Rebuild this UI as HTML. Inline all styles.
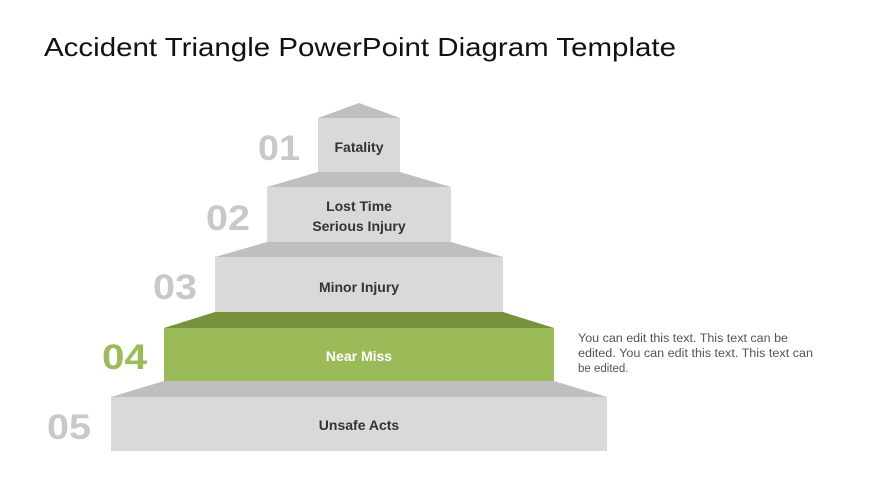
<!DOCTYPE html>
<html><head><style>
body{margin:0;width:870px;height:489px;background:#fff;overflow:hidden}
svg{display:block}
</style></head><body>
<svg width="870" height="489" viewBox="0 0 870 489" font-family="Liberation Sans, sans-serif">
<text x="44" y="56" font-size="26" fill="#111" textLength="632" lengthAdjust="spacingAndGlyphs">Accident Triangle PowerPoint Diagram Template</text>
<polygon points="318,118 359,103 400,118" fill="#bfbfbf"/>
<rect x="318" y="118" width="82" height="54" fill="#d9d9d9"/>
<text x="359" y="152" font-size="14" font-weight="bold" fill="#333" text-anchor="middle">Fatality</text>
<polygon points="318,172 400,172 451,187 267,187" fill="#bfbfbf"/>
<rect x="267" y="187" width="184" height="55" fill="#d9d9d9"/>
<text x="359" y="211" font-size="14" font-weight="bold" fill="#333" text-anchor="middle">Lost Time</text>
<text x="359" y="231" font-size="14" font-weight="bold" fill="#333" text-anchor="middle">Serious Injury</text>
<polygon points="267,242 451,242 503,257 215,257" fill="#bfbfbf"/>
<rect x="215" y="257" width="288" height="55" fill="#d9d9d9"/>
<text x="359" y="292" font-size="14" font-weight="bold" fill="#333" text-anchor="middle">Minor Injury</text>
<polygon points="215,312 503,312 554,328 164,328" fill="#76923c"/>
<rect x="164" y="328" width="390" height="53" fill="#9bbb59"/>
<text x="359" y="361" font-size="14" font-weight="bold" fill="#fff" text-anchor="middle">Near Miss</text>
<polygon points="164,381 554,381 607,397 111,397" fill="#bfbfbf"/>
<rect x="111" y="397" width="496" height="54" fill="#d9d9d9"/>
<text x="359" y="430" font-size="14" font-weight="bold" fill="#333" text-anchor="middle">Unsafe Acts</text>
<g font-size="35" font-weight="bold" fill="#c8c8c8">
<text x="258" y="160" textLength="42" lengthAdjust="spacingAndGlyphs">01</text>
<text x="206" y="230" textLength="44" lengthAdjust="spacingAndGlyphs">02</text>
<text x="153" y="299" textLength="44" lengthAdjust="spacingAndGlyphs">03</text>
<text x="102" y="369" fill="#9bbb59" textLength="45" lengthAdjust="spacingAndGlyphs">04</text>
<text x="47" y="439" textLength="44" lengthAdjust="spacingAndGlyphs">05</text>
</g>
<g font-size="11.5" fill="#555">
<text x="578" y="342" textLength="210" lengthAdjust="spacingAndGlyphs">You can edit this text. This text can be</text>
<text x="578" y="357" textLength="235" lengthAdjust="spacingAndGlyphs">edited. You can edit this text. This text can</text>
<text x="578" y="372">be edited.</text>
</g>
</svg>
</body></html>
